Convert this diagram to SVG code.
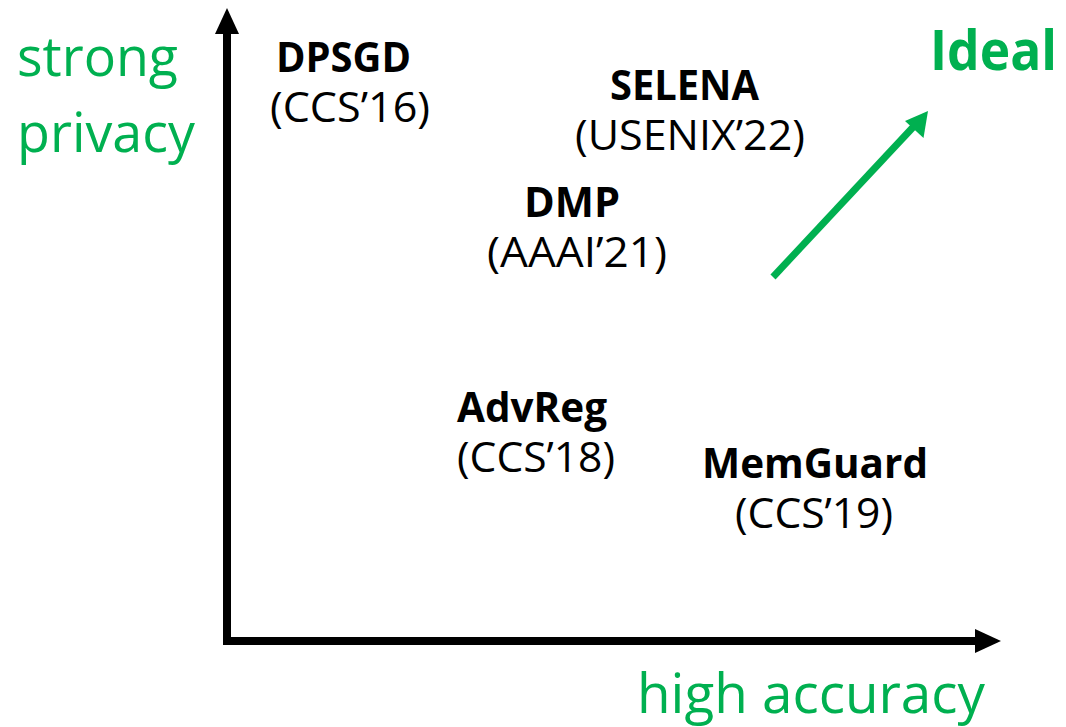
<svg xmlns="http://www.w3.org/2000/svg" width="1066" height="727" viewBox="0 0 1066 727">
  <style>
    .name { font-family: "Open Sans", "Liberation Sans", sans-serif; font-weight: 700; font-size: 42px; fill: #000; }
    .venue { font-family: "Open Sans", "Liberation Sans", sans-serif; font-weight: 400; font-size: 42px; fill: #000; }
    .axis-label { font-family: "Open Sans", "Liberation Sans", sans-serif; font-weight: 400; font-size: 54px; fill: #00B050; }
    .ideal { font-family: "Open Sans", "Liberation Sans", sans-serif; font-weight: 700; font-size: 56px; fill: #00B050; }
    .axis { stroke: #000; stroke-width: 8; fill: none; }
    .trend { stroke: #00B050; stroke-width: 7; fill: none; }
  </style>
  <rect width="1066" height="727" fill="#fff"/>

  <!-- axes and trend arrow -->
  <g id="connectors">
    <line class="axis" x1="227" y1="645" x2="227" y2="30"/>
    <polygon points="227,8 239,34 215,34" fill="#000"/>
    <line class="axis" x1="223" y1="641" x2="978" y2="641"/>
    <polygon points="1001,641 975,629 975,653" fill="#000"/>
    <line class="trend" x1="773" y1="277" x2="916" y2="124"/>
    <polygon points="928,111 923.5,138 905,121" fill="#00B050"/>
  </g>

  <!-- axis captions -->
  <g id="y-label">
    <text class="axis-label" x="17" y="76" textLength="161" lengthAdjust="spacingAndGlyphs">strong</text>
    <text class="axis-label" x="17" y="152" textLength="178" lengthAdjust="spacingAndGlyphs">privacy</text>
  </g>
  <g id="x-label">
    <text class="axis-label" x="637" y="713" textLength="348" lengthAdjust="spacingAndGlyphs">high accuracy</text>
  </g>
  <g id="ideal">
    <text class="ideal" x="930" y="70" textLength="127" lengthAdjust="spacingAndGlyphs">Ideal</text>
  </g>

  <!-- methods -->
  <g id="dpsgd">
    <text class="name" x="276" y="72" textLength="135" lengthAdjust="spacingAndGlyphs">DPSGD</text>
    <text class="venue" x="270" y="122" textLength="160" lengthAdjust="spacingAndGlyphs">(CCS’16)</text>
  </g>
  <g id="selena">
    <text class="name" x="610" y="100" textLength="149" lengthAdjust="spacingAndGlyphs">SELENA</text>
    <text class="venue" x="575" y="150" textLength="230" lengthAdjust="spacingAndGlyphs">(USENIX’22)</text>
  </g>
  <g id="dmp">
    <text class="name" x="524" y="217" textLength="96" lengthAdjust="spacingAndGlyphs">DMP</text>
    <text class="venue" x="487" y="267" textLength="180" lengthAdjust="spacingAndGlyphs">(AAAI’21)</text>
  </g>
  <g id="advreg">
    <text class="name" x="457" y="422" textLength="150" lengthAdjust="spacingAndGlyphs">AdvReg</text>
    <text class="venue" x="457" y="472" textLength="158" lengthAdjust="spacingAndGlyphs">(CCS’18)</text>
  </g>
  <g id="memguard">
    <text class="name" x="702" y="478" textLength="226" lengthAdjust="spacingAndGlyphs">MemGuard</text>
    <text class="venue" x="735" y="528" textLength="158" lengthAdjust="spacingAndGlyphs">(CCS’19)</text>
  </g>
</svg>
